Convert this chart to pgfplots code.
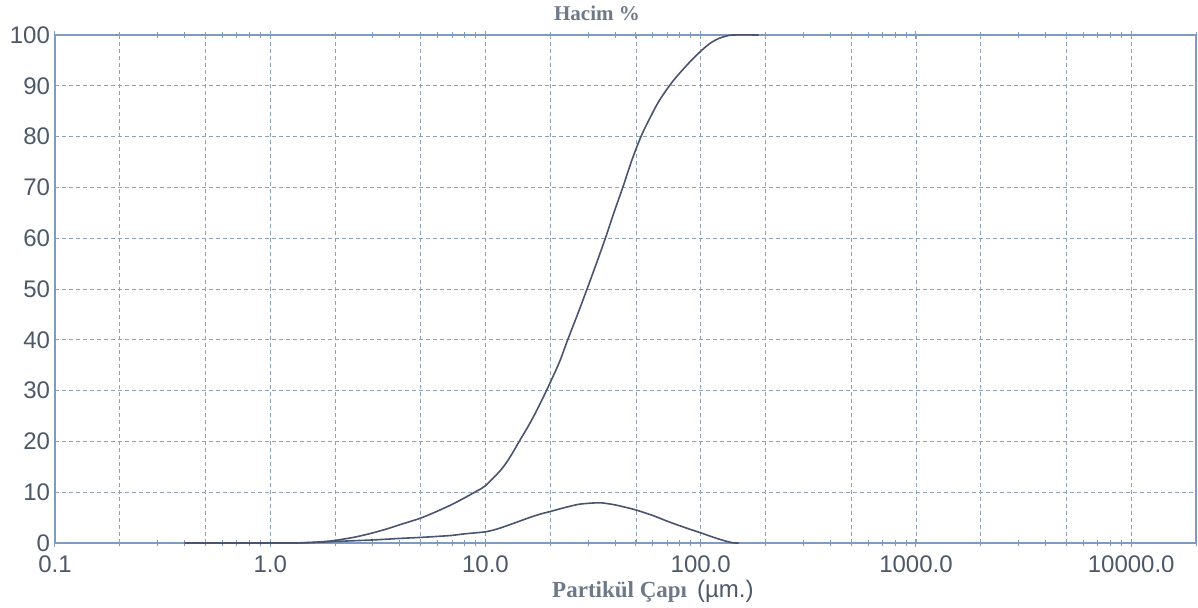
\documentclass[border=0pt]{standalone}
\usepackage{fontspec}
\setmainfont{Liberation Sans}
\newfontfamily\serifb{Liberation Serif}
\usepackage{pgfplots}
\pgfplotsset{compat=1.18}
\definecolor{axc}{HTML}{7F9CC0}
\definecolor{gridc}{HTML}{8FA2B8}
\definecolor{curvec}{HTML}{4A5470}
\definecolor{labc}{HTML}{4D5868}
\definecolor{titc}{HTML}{6E7888}
\begin{document}
\begin{tikzpicture}
\begin{axis}[
  at={(0,0)}, anchor=south west,
  scale only axis, width=570.5pt, height=254pt,
  xmode=log, xmin=0.1, xmax=20000, ymin=0, ymax=100,
  axis line style={axc, line width=0.6pt},
  xtick={0.1,1,10,100,1000,10000},
  xticklabels={0.1,1.0,10.0,100.0,1000.0,10000.0},
  minor xtick={0.2,0.3,0.4,0.5,0.6,0.7,0.8,0.9,2,3,4,5,6,7,8,9,20,30,40,50,60,70,80,90,200,300,400,500,600,700,800,900,2000,3000,4000,5000,6000,7000,8000,9000,20000},
  extra x ticks={0.2,0.5,2,5,20,50,200,500,2000,5000},
  extra x tick labels={},
  extra x tick style={major tick length=0pt, grid=major},
  tick align=center, major tick length=4pt, minor tick length=3pt,
  tick style={axc, line width=0.5pt},
  ytick={0,10,...,100},
  ytick style={draw=none},
  xmajorgrids, ymajorgrids,
  grid style={gridc, dash pattern=on 2pt off 1.5pt, line width=0.4pt},
  ticklabel style={font=\fontsize{12}{14}\selectfont, text=labc},
  yticklabel style={/pgf/number format/assume math mode=true, xshift=3pt},
  xticklabel style={yshift=-1pt},
  clip=false,
]
\addplot[curvec, line width=0.8pt, smooth, tension=0.5] coordinates {
(0.4,0) (1.2,0) (1.4,0.05) (1.6,0.15) (1.8,0.3) (2.0,0.5) (2.5,1.2) (3.0,2.0) (3.5,2.8)
(4.0,3.6) (5.0,4.9) (6.0,6.3) (7.0,7.6) (8.0,8.9) (9.0,10.1) (10.0,11.3) (11.8,14.4)
(13.0,16.9) (14.35,20.0) (16.0,23.4) (17.5,26.5) (19.4,30.4) (22.0,35.5) (24.1,40.0)
(27.0,45.4) (30.0,50.6) (33.0,55.4) (36.2,60.2) (39.5,65.0) (43.6,70.2) (48.0,75.5)
(53.0,80.2) (58.0,83.6) (64.0,87.0) (73.9,90.8) (87.7,94.4) (100.0,96.8) (110.0,98.3)
(121.0,99.3) (132.0,99.8) (142.0,100) (186.0,100)
};
\addplot[curvec, line width=0.8pt, smooth, tension=0.5] coordinates {
(0.4,0) (1.2,0) (1.4,0.03) (1.6,0.1) (2.0,0.3) (3.0,0.6) (4.0,0.9) (5.0,1.1) (6.0,1.3)
(7.0,1.5) (8.0,1.8) (9.0,2.0) (10.0,2.2) (11.0,2.6) (12.0,3.1) (14.2,4.2) (16.0,5.0)
(18.0,5.7) (20.0,6.2) (23.0,6.9) (27.0,7.6) (31.0,7.85) (34.6,7.9) (40.0,7.5) (45.0,7.0)
(50.0,6.5) (60.0,5.4) (70.8,4.2) (85.0,3.0) (100.0,2.0) (115.0,1.1) (130.0,0.4) (142.0,0.02) (150.0,0)
};
\node[font=\serifb\bfseries\fontsize{10.5}{12}\selectfont, text=titc] at (axis description cs:0.475,1) [yshift=11pt] {Hacim \%};
\node[text=labc] at (axis description cs:0.524,0) [yshift=-24pt]
  {{\serifb\bfseries\fontsize{11.5}{13}\selectfont\color{titc}Partikül Çapı}\hspace{5pt}{\fontsize{12}{14}\selectfont(µm.)}};
\end{axis}
\pgfresetboundingbox
\path (-27.5pt,-32.5pt) rectangle (571.5pt,271.5pt);
\end{tikzpicture}
\end{document}
